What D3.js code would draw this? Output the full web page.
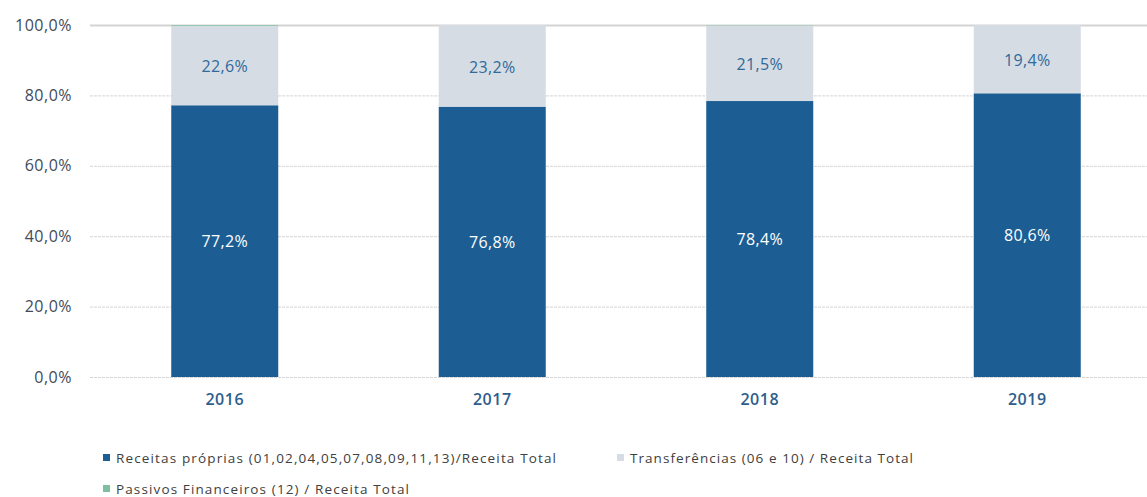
<!DOCTYPE html>
<html><head><meta charset="utf-8">
<script src="https://cdn.jsdelivr.net/npm/d3@7/dist/d3.min.js"></script>
<style>body{margin:0;background:#fff;}svg{display:block;font-family:"Open Sans",sans-serif;}</style>
</head><body><svg id="c" width="1147" height="497"></svg>
<script>
const years = ["2016","2017","2018","2019"];
const receitasProprias = [77.2, 76.8, 78.4, 80.6];
const transferencias = [22.6, 23.2, 21.5, 19.4];
const passivos = [0.2, 0.0, 0.1, 0.0];
const yTicks = [0,20,40,60,80,100];
const seriesNames = ["Receitas próprias (01,02,04,05,07,08,09,11,13)/Receita Total","Transferências (06 e 10) / Receita Total","Passivos Financeiros (12) / Receita Total"];
const colors = ["#1C5E93","#D6DCE4","#7DBF9E"];

const svg = d3.select("#c");
const x = d3.scaleBand().domain(years).range([91,1161]).paddingInner(0.6).paddingOuter(0.3);
const y = d3.scaleLinear().domain([0,100]).range([377,25]);
const fmt = v => d3.format(".1f")(v).replace(".",",") + "%";

// gridlines
svg.append("g").selectAll("line").data(yTicks).join("line")
  .attr("x1",90).attr("x2",1147).attr("y1",d=>y(d)+0.5).attr("y2",d=>y(d)+0.5)
  .attr("stroke","#D4D4D4").attr("stroke-width",d=>d===100?2:1)
  .attr("stroke-dasharray",d=>d===100?null:"3,1");

// y axis labels
const yAxis = d3.axisLeft(y).tickValues(yTicks).tickFormat(d=>fmt(d)).tickSize(0).tickPadding(0);
const ya = svg.append("g").attr("transform","translate(72,0)").call(yAxis);
ya.select(".domain").remove();
ya.selectAll("text").attr("fill","#3F4B5A").style("font-size","16px").style("letter-spacing","0.5px").style("font-family","'Open Sans',sans-serif");

// stacked data
const rows = years.map((yr,i)=>({year:yr, r:receitasProprias[i], t:transferencias[i], p:passivos[i]}));
const stack = d3.stack().keys(["r","t","p"]);
const stacked = stack(rows);
const g = svg.append("g");
stacked.forEach((s,k)=>{
  g.append("g").attr("fill",colors[k]).selectAll("rect").data(s).join("rect")
    .attr("x",d=>x(d.data.year)).attr("width",x.bandwidth())
    .attr("y",d=>y(d[1])).attr("height",d=>Math.max(0,y(d[0])-y(d[1])));
});
// labels
g.append("g").selectAll("text").data(stacked[0]).join("text")
  .attr("x",d=>x(d.data.year)+x.bandwidth()/2).attr("y",d=>y((d[0]+d[1])/2)+6)
  .attr("text-anchor","middle").attr("fill","#FFFFFF").style("font-size","16px").style("letter-spacing","0.3px")
  .text(d=>fmt(d.data.r));
g.append("g").selectAll("text").data(stacked[1]).join("text")
  .attr("x",d=>x(d.data.year)+x.bandwidth()/2).attr("y",d=>y((d[0]+d[1])/2)+7)
  .attr("text-anchor","middle").attr("fill","#2F6A9A").style("font-size","16px").style("letter-spacing","0.3px")
  .text(d=>fmt(d.data.t));

// x axis labels
const xAxis = d3.axisBottom(x).tickSize(0).tickPadding(0);
const xa = svg.append("g").attr("transform","translate(0,394)").call(xAxis);
xa.select(".domain").remove();
xa.selectAll("text").attr("fill","#2E5E8C").style("font-size","16px").style("font-weight","600").style("letter-spacing","0.5px").style("font-family","'Open Sans',sans-serif");

// legend
const leg = [{i:0,x:103,y:458,w:440},{i:1,x:617,y:458,w:283},{i:2,x:103,y:489,w:293}];
const lg = svg.append("g");
leg.forEach(l=>{
  lg.append("rect").attr("x",l.x).attr("y",l.y-4).attr("width",7).attr("height",7).attr("fill",colors[l.i]);
  lg.append("text").attr("x",l.x+13).attr("y",l.y+5).attr("fill","#404040").style("font-size","13.5px")
    .attr("textLength",l.w).attr("lengthAdjust","spacing")
    .text(seriesNames[l.i]);
});
</script></body></html>
